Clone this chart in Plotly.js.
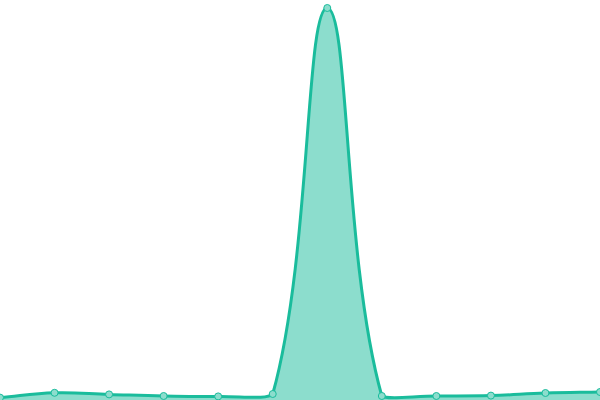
<!DOCTYPE html>
<html>
<head>
<meta charset="utf-8">
<script src="https://cdn.plot.ly/plotly-3.0.1.min.js"></script>
<style>
  html, body { margin: 0; padding: 0; background: #fff; }
  #plot { width: 600px; height: 400px; }
</style>
</head>
<body>
<div id="plot"></div>
<script>
const xs = [0, 1, 2, 3, 4, 5, 6, 7, 8, 9, 10, 11];
const values = [0.6, 1.8, 1.4, 1.0, 0.9, 1.5, 98, 1.0, 1.0, 1.1, 1.75, 2.0];

const W = 600, H = 400;
const X_RANGE = [0, 11], Y_RANGE = [0, 100];
const TENSION = 0.4;

// pixel <-> data, so the curve tension is worked out on screen distances
const px = (x) => ((x - X_RANGE[0]) / (X_RANGE[1] - X_RANGE[0])) * W;
const py = (y) => H - ((y - Y_RANGE[0]) / (Y_RANGE[1] - Y_RANGE[0])) * H;
const dx = (p) => X_RANGE[0] + (p / W) * (X_RANGE[1] - X_RANGE[0]);
const dy = (p) => Y_RANGE[0] + ((H - p) / H) * (Y_RANGE[1] - Y_RANGE[0]);
const clamp = (v, lo, hi) => Math.min(hi, Math.max(lo, v));

function controlPoints(prev, cur, next) {
  const d01 = Math.hypot(cur[0] - prev[0], cur[1] - prev[1]);
  const d12 = Math.hypot(next[0] - cur[0], next[1] - cur[1]);
  let s01 = d01 / (d01 + d12), s12 = d12 / (d01 + d12);
  if (isNaN(s01)) s01 = 0;
  if (isNaN(s12)) s12 = 0;
  const fa = TENSION * s01, fb = TENSION * s12;
  const before = [cur[0] - fa * (next[0] - prev[0]), cur[1] - fa * (next[1] - prev[1])];
  const after = [cur[0] + fb * (next[0] - prev[0]), cur[1] + fb * (next[1] - prev[1])];
  const cap = (p) => [clamp(p[0], 0, W), clamp(p[1], 0, H)];
  return { before: cap(before), after: cap(after) };
}

function curvePath() {
  const pts = xs.map((x, i) => [px(x), py(values[i])]);
  const cps = pts.map((p, i) =>
    controlPoints(pts[i - 1] || p, p, pts[i + 1] || p)
  );
  const fmt = (p) => `${dx(p[0])},${dy(p[1])}`;
  let d = `M ${fmt(pts[0])}`;
  for (let i = 1; i < pts.length; i++) {
    d += ` C ${fmt(cps[i - 1].after)} ${fmt(cps[i].before)} ${fmt(pts[i])}`;
  }
  return d;
}

const linePath = curvePath();
const areaPath =
  linePath + ` L ${xs[xs.length - 1]},${Y_RANGE[0]} L ${xs[0]},${Y_RANGE[0]} Z`;

const pointsTrace = {
  x: xs,
  y: values,
  type: "scatter",
  mode: "markers",
  marker: { size: 7, color: "#8cddcd", line: { color: "#1abc9c", width: 1 } },
  hoverinfo: "none",
  cliponaxis: false,
};

Plotly.newPlot("plot", [pointsTrace], {
  width: W,
  height: H,
  margin: { l: 0, r: 0, t: 0, b: 0 },
  paper_bgcolor: "#fff",
  plot_bgcolor: "#fff",
  showlegend: false,
  xaxis: { range: X_RANGE, visible: false, fixedrange: true },
  yaxis: { range: Y_RANGE, visible: false, fixedrange: true },
  shapes: [
    {
      type: "path", xref: "x", yref: "y", layer: "below",
      path: areaPath,
      fillcolor: "rgba(26,188,156,0.5)",
      line: { width: 0 },
    },
    {
      type: "path", xref: "x", yref: "y", layer: "below",
      path: linePath,
      fillcolor: "rgba(0,0,0,0)",
      line: { color: "#1abc9c", width: 3 },
    },
  ],
}, { staticPlot: true });
</script>
</body>
</html>
